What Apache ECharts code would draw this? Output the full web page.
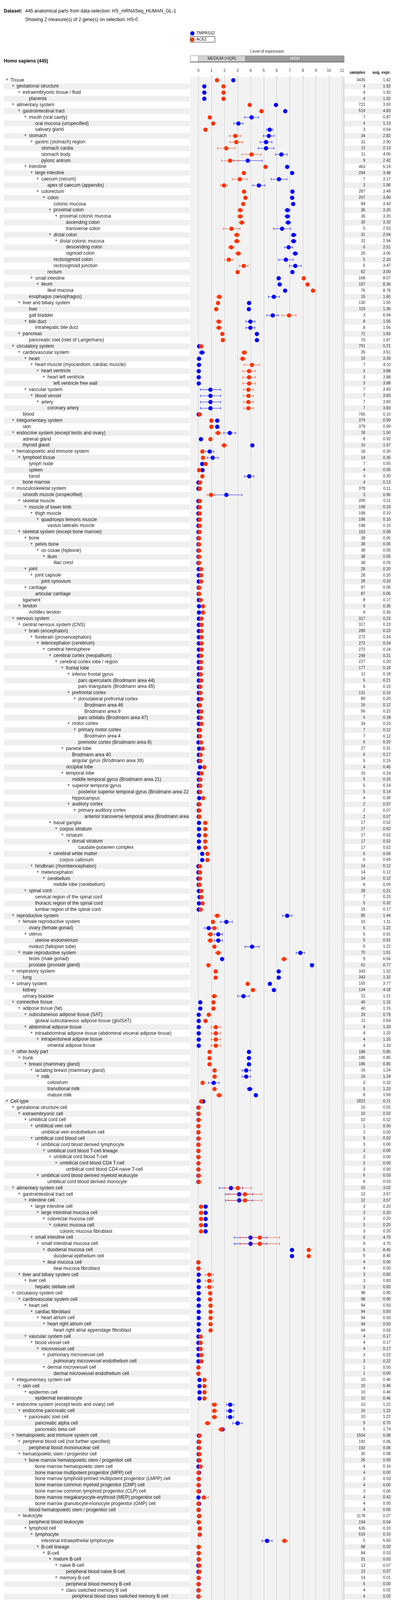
<!DOCTYPE html>
<html>
<head>
<meta charset="utf-8">
<script src="https://cdn.jsdelivr.net/npm/echarts@6/dist/echarts.min.js"></script>
<style>
html,body{margin:0;padding:0;background:#fff;}
#c{width:1020px;height:7290px;}
</style>
</head>
<body>
<div id="c"></div>
<script>
// ---------------- DATA ----------------
const labels = [
"Tissue","gestational structure","extraembryonic tissue / fluid","placenta","alimentary system","gastrointestinal tract","mouth (oral cavity)","oral mucosa (unspecified)","salivary gland","stomach",
"gastric (stomach) region","stomach cardia","stomach body","pyloric antrum","intestine","large intestine","caecum (cecum)","apex of caecum (appendix)","colorectum","colon",
"colonic mucosa","proximal colon","proximal colonic mucosa","ascending colon","transverse colon","distal colon","distal colonic mucosa","descending colon","sigmoid colon","rectosigmoid colon",
"rectosigmoid junction","rectum","small intestine","ileum","ileal mucosa","esophagus (oesophagus)","liver and biliary system","liver","gall bladder","bile duct",
"intrahepatic bile duct","pancreas","pancreatic islet (islet of Langerhans)","circulatory system","cardiovascular system","heart","heart muscle (myocardium, cardiac muscle)","heart ventricle","heart left ventricle","left ventricle free wall",
"vascular system","blood vessel","artery","coronary artery","blood","integumentary system","skin","endocrine system (except testis and ovary)","adrenal gland","thyroid gland",
"hematopoietic and immune system","lymphoid tissue","lymph node","spleen","tonsil","bone marrow","musculoskeletal system","smooth muscle (unspecified)","skeletal muscle","muscle of lower limb",
"thigh muscle","quadriceps femoris muscle","vastus lateralis muscle","skeletal system (except bone marrow)","bone","pelvis bone","os coxae (hipbone)","ilium","iliac crest","joint",
"joint capsule","joint synovium","cartilage","articular cartilage","ligament","tendon","Achilles tendon","nervous system","central nervous system (CNS)","brain (encephalon)",
"forebrain (prosencephalon)","telencephalon (cerebrum)","cerebral hemisphere","cerebral cortex (neopallium)","cerebral cortex lobe / region","frontal lobe","inferior frontal gyrus","pars opercularis (Brodmann area 44)","pars triangularis (Brodmann area 45)","prefrontal cortex",
"dorsolateral prefrontal cortex","Brodmann area 46","Brodmann area 9","pars orbitalis (Brodmann area 47)","motor cortex","primary motor cortex","Brodmann area 4","premotor cortex (Brodmann area 6)","parietal lobe","Brodmann area 40",
"angular gyrus (Brodmann area 39)","occipital lobe","temporal lobe","middle temporal gyrus (Brodmann area 21)","superior temporal gyrus","posterior superior temporal gyrus (Brodmann area 22)","hippocampus","auditory cortex","primary auditory cortex","anterior transverse temporal area (Brodmann area 41)",
"basal ganglia","corpus striatum","striatum","dorsal striatum","caudate-putamen complex","cerebral white matter","corpus callosum","hindbrain (rhombencephalon)","metencephalon","cerebellum",
"middle lobe (cerebellum)","spinal cord","cervical region of the spinal cord","thoracic region of the spinal cord","lumbar region of the spinal cord","reproductive system","female reproductive system","ovary (female gonad)","uterus","uterine endometrium",
"oviduct (fallopian tube)","male reproductive system","testis (male gonad)","prostate (prostate gland)","respiratory system","lung","urinary system","kidney","urinary bladder","connective tissue",
"adipose tissue (fat)","subcutaneous adipose tissue (SAT)","gluteal subcutaneous adipose tissue (glutSAT)","abdominal adipose tissue","intraabdominal adipose tissue (abdominal visceral adipose tissue)","intraperitoneal adipose tissue","omental adipose tissue","other body part","trunk","breast (mammary gland)",
"lactating breast (mammary gland)","milk","colostrum","transitional milk","mature milk","Cell type","gestational structure cell","extraembryonic cell","umbilical cord cell","umbilical vein cell",
"umbilical vein endothelium cell","umbilical cord blood cell","umbilical cord blood derived lymphocyte","umbilical cord blood T-cell lineage","umbilical cord blood T-cell","umbilical cord blood CD4 T-cell","umbilical cord blood CD4 naive T-cell","umbilical cord blood derived myeloid leukocyte","umbilical cord blood derived monocyte","alimentary system cell",
"gastrointestinal tract cell","intestine cell","large intestine cell","large intestinal mucosa cell","colorectal mucosa cell","colonic mucosa cell","colonic mucosa fibroblast","small intestine cell","small intestinal mucosa cell","duodenal mucosa cell",
"duodenal epithelium cell","ileal mucosa cell","ileal mucosa fibroblast","liver and biliary system cell","liver cell","hepatic stellate cell","circulatory system cell","cardiovascular system cell","heart cell","cardiac fibroblast",
"heart atrium cell","heart right atrium cell","heart right atrial appendage fibroblast","vascular system cell","blood vessel cell","microvessel cell","pulmonary microvessel cell","pulmonary microvessel endothelium cell","dermal microvessel cell","dermal microvessel endothelium cell",
"integumentary system cell","skin cell","epidermis cell","epidermal keratinocyte","endocrine system (except testis and ovary) cell","endocrine pancreatic cell","pancreatic islet cell","pancreatic alpha cell","pancreatic beta cell","hematopoietic and immune system cell",
"peripheral blood cell (not further specified)","peripheral blood mononuclear cell","hematopoietic stem / progenitor cell","bone marrow hematopoietic stem / progenitor cell","bone marrow hematopoietic stem cell","bone marrow multipotent progenitor (MPP) cell","bone marrow lymphoid-primed multipotent progenitor (LMPP) cell","bone marrow common myeloid progenitor (CMP) cell","bone marrow common lymphoid progenitor (CLP) cell","bone marrow megakaryocyte-erythroid (MEP) progenitor cell",
"bone marrow granulocyte-monocyte progenitor (GMP) cell","blood hematopoietic stem / progenitor cell","leukocyte","peripheral blood leukocyte","lymphoid cell","lymphocyte","intestinal intraepithelial lymphocyte","B-cell lineage","B-cell","mature B-cell",
"naive B-cell","peripheral blood naive B-cell","memory B-cell","peripheral blood memory B-cell","class switched memory B cell","peripheral blood class switched memory B cell","unswitched memory B-cell","peripheral blood unswitched memory B-cell","exhausted B-cell","peripheral blood exhausted B-cell",
"B-cell (unspecified)","peripheral blood B-cell (unspecified)","plasmablast","peripheral blood plasmablast","T-cell lineage","T-cell","CD4 T-cell","CD4 T-cell (unspecified)","peripheral blood CD4 T-cell (unspecified)","breast tissue CD4 T-cell (unspecified)",
"CD4 naive T-cell","peripheral blood CD4 naive T-cell","tonsillar CD4 naive T-cell","CD4 helper T-cell","CD4 helper T-cell (unspecified)","peripheral blood CD4 helper T-cell (unspecified)","tonsillar CD4 helper T-cell (unspecified)","skin CD4 helper T-cell (unspecified)","Th1 T-cell","peripheral blood Th1 T-cell",
"colonic Th1 T-cell","Th2 T-cell","peripheral blood Th2 T-cell","Th17 T-cell","peripheral blood Th17 T-cell","colonic Th17 T-cell","CD4 follicular helper T-cell","tonsillar CD4 follicular helper T-cell","peripheral blood CD4 follicular helper T-cell","CD4 memory T-cell",
"CD4 central memory T-cell","peripheral blood CD4 central memory T-cell","CD4 effector memory T-cell","peripheral blood CD4 effector memory T-cell","splenic CD4 effector memory T-cell","pulmonary CD4 effector memory T-cell","CD4 tissue-resident memory T-cell","splenic CD4 resident memory T-cell","CD4 memory Th1 precursor T-cell","CD4 memory Th2 precursor T-cell",
"CD4 memory Th17 precursor T-cell","CD4 regulatory T-cell","CD4 regulatory T-cell (unspecified)","peripheral blood CD4 regulatory T-cell (unspecified)","breast tissue CD4 regulatory T-cell (unspecified)","colonic CD4 regulatory T-cell (unspecified)","CD4 naive regulatory T-cell","peripheral blood CD4 naive regulatory T-cell","CD4 memory regulatory T-cell","peripheral blood CD4 memory regulatory T-cell",
"CD4 activated T-cell","peripheral blood CD4 activated T-cell","CD4 resting T-cell","peripheral blood CD4 resting T-cell","CD8 T-cell","CD8 T-cell (unspecified)","peripheral blood CD8 T-cell (unspecified)","pulmonary CD8 T-cell (unspecified)","skin CD8 T-cell (unspecified)","CD8 naive T-cell",
"peripheral blood CD8 naive T-cell","CD8 memory T-cell","CD8 memory T-cell (unspecified)","lymph node CD8 memory T-cell (unspecified)","bone marrow CD8 memory T-cell (unspecified)","CD8 central memory T-cell","peripheral blood CD8 central memory T-cell","CD8 effector memory T-cell","peripheral blood CD8 effector memory T-cell","splenic CD8 effector memory T-cell",
"pulmonary CD8 effector memory T-cell","CD8 effector memory RA T-cell","peripheral blood CD8 effector memory RA T-cell","tissue-resident CD8 memory T-cell","splenic CD8 resident memory T-cell","skin CD8 resident memory T-cell","CD8 activated T-cell","peripheral blood CD8 activated T-cell","NK T-cell","NK T-cell (unspecified)",
"peripheral blood NK T-cell (unspecified)","gamma-delta T-cell","gamma-delta T-cell (unspecified)","intestinal intraepithelial gd T-cell (unspecified)","peripheral blood gd T-cell (unspecified)","regulatory T-cell (unspecified)","peripheral blood regulatory T-cell (unspecified)","mucosal associated invariant T cell (MAIT)","peripheral blood mucosal associated invariant T cell","innate lymphoid cell",
"group 1 innate lymphoid cell","natural killer cell","peripheral blood natural killer cell","myeloid leukocyte","granulocyte (polymorphonuclear leukocyte)","basophil granulocyte","blood basophil granulocyte","blood low density basophil granulocyte","neutrophil granulocyte","blood neutrophil granulocyte",
"blood low density neutrophil granulocyte","monocyte","peripheral blood monocyte","peripheral blood classical monocyte","peripheral blood intermediate monocyte","peripheral blood non-classical monocyte","macrophage","monocyte derived macrophage","myeloid cell","erythroblast",
"platelet (thrombocyte)","dendritic cell","monocyte derived dendritic cell","conventional dendritic cell","peripheral blood conventional dendritic cell","plasmacytoid dendritic cell","peripheral blood plasmacytoid dendritic cell","musculoskeletal system cell","skeletal system cell","bone tissue cell",
"bone cell","osteoblast","nervous system cell","central nervous system cell","glia cell","astrocyte","astrocyte (unspecified)","brain astrocyte (unspecified)","forebrain astrocyte","telencephalon astocyte",
"cerebral cortex astrocyte","microglia cell","brain microglia cell","forebrain microglia cell","telencephalon microglia cell","cerebral cortex microglia cell","oligodendrocyte","myelinating oligodendrocyte","brain myelinating oligodendrocyte","forebrain myelinating oligodendrocyte",
"telencephalon myelinating oligodendrocyte","cerebral cortex myelinating oligodendrocyte","neuron","brain neuron","midbrain neuron","midbrain neuron (unspecified)","cerebral peduncle neuron","cerebral peduncle neuron (unspecified)","periaqueductal grey neuron","periaqueductal grey neuron (unspecified)",
"oculomotor nucleus motor neuron","spinal cord neuron","spinal cord motor neuron","peripheral nervous system cell","Schwann cell","reproductive system cell","female reproductive system cell","ovary (female gonad) cell","ovarian cortex cell","ovarian follicle cell",
"ovarian granulosa cell","cumulus granulosa cell","mural granulosa cell","cumulus cell","uterus cell","uterine endometrium cell","uterine endometrium stroma cell","male reproductive system cell","male germ cell","spermatozoon (gamete, sperm cell)",
"respiratory system cell","trachea cell","tracheal mucosa cell","tracheal epithelium cell","lung cell","bronchoalveolar system cell","large airway cell","large airway mucosa cell","large airway epithelium cell","bronchus (primary, main stem) cell",
"bronchial (primary, main stem) mucosa cell","bronchial (primary, main stem) epithelium cell","alveolar sac cell","alveolar cell","alveolar epithelium cell","pneumocyte","cuboidal alveolar type 2 cell (AT2)","urinary system cell","kidney cell","nephron cell",
"renal corpuscle cell","Bowman's capsule (glomerular capsule) cell","podocyte","Organotypic / 3D culture","primary colonic epithelium organoid"
];

// tree depth of each row
const levels = [
0,1,2,3,1,2,3,4,4,3,
4,5,5,5,3,4,5,6,5,6,
7,7,8,9,9,7,8,9,9,7,
7,6,4,5,6,3,2,3,3,3,
4,2,3,1,2,3,4,5,6,7,
3,4,5,6,2,1,2,1,2,2,
1,2,3,3,3,2,1,2,2,3,
4,5,6,2,3,4,5,6,7,3,
4,5,3,4,2,2,3,1,2,3,
4,5,6,7,8,9,10,11,11,10,
11,12,12,11,10,11,12,11,9,10,
10,9,9,10,10,11,10,10,11,12,
7,8,9,10,11,7,8,4,5,6,
7,3,4,4,4,1,2,3,3,4,
3,2,3,3,1,2,1,2,2,1,
2,3,4,3,4,5,6,1,2,3,
4,5,6,6,6,0,1,2,3,4,
5,4,5,6,7,8,9,5,6,1,
2,3,4,5,6,7,8,4,5,6,
7,6,7,2,3,4,1,2,3,4,
5,6,7,3,4,5,6,7,6,7,
1,2,3,4,1,2,3,4,4,1,
2,3,2,3,4,4,4,4,4,4,
4,3,2,3,3,4,5,5,6,7,
8,9,8,9,9,10,9,10,8,9,
7,7,6,7,5,6,7,8,9,9,
8,9,9,8,9,10,10,10,9,10,
10,9,10,9,10,10,9,10,10,8,
9,10,9,10,10,10,9,10,9,9,
9,8,9,10,10,10,9,10,9,10,
8,9,8,9,7,8,9,9,9,8,
9,8,9,10,10,9,10,9,10,10,
10,9,10,9,10,10,8,9,7,8,
9,7,8,9,9,7,8,7,8,4,
5,6,7,3,4,5,6,7,5,6,
7,4,5,6,6,6,4,5,2,3,
3,2,3,3,4,3,4,1,2,3,
4,5,1,2,3,4,5,6,7,8,
9,4,5,6,7,8,4,5,6,7,
8,9,3,4,5,6,7,8,9,10,
11,4,5,2,3,1,2,3,4,5,
6,7,7,6,3,4,5,2,3,4,
1,2,3,4,2,3,4,5,6,5,
6,7,4,5,6,7,8,1,2,3,
4,5,6,0,1
];

const samples = [
3435,4,4,4,721,519,7,4,3,34,
31,11,11,9,463,294,7,3,287,207,
84,35,35,30,5,31,31,6,25,5,
6,62,168,157,76,15,130,119,3,8,
8,72,70,791,26,19,7,3,3,3,
7,7,7,7,765,379,379,18,8,10,
18,14,7,4,3,4,378,3,205,198,
198,198,198,153,38,38,38,38,38,28,
28,28,87,87,8,9,9,317,317,289,
272,272,272,249,227,177,11,5,6,131,
80,16,56,5,24,7,7,6,27,6,
5,4,19,5,5,5,4,2,2,2,
17,17,17,17,17,6,6,14,14,14,
8,28,7,5,15,85,15,5,5,5,
5,70,9,61,343,343,155,134,21,40,
40,29,11,4,4,4,4,186,186,186,
16,16,3,5,8,1822,10,10,10,1,
1,9,3,3,3,3,3,6,6,15,
12,12,3,3,3,3,3,9,9,5,
5,4,4,3,3,3,98,98,94,94,
94,94,94,4,4,4,3,3,1,1,
10,10,10,10,10,10,10,5,5,1504,
192,192,30,26,4,4,3,4,3,4,
4,4,1178,194,635,615,5,88,84,31,
13,13,14,6,4,4,4,4,4,4,
4,48,4,4,522,522,297,56,46,6,
50,46,4,59,20,8,3,9,14,8,
6,4,4,10,4,6,11,3,8,85,
17,17,53,47,3,3,3,3,4,4,
4,29,25,7,6,7,2,2,2,2,
8,8,10,10,194,107,52,32,19,9,
9,72,12,6,6,7,7,32,26,3,
3,4,4,17,3,14,6,6,4,4,
4,19,19,8,11,4,4,4,4,20,
20,20,15,347,77,4,4,4,72,64,
4,253,227,4,4,8,17,17,60,3,
57,44,1,20,18,13,7,8,8,8,
8,8,50,47,37,10,10,10,10,10,
10,24,24,18,18,18,3,3,3,3,
3,3,10,7,7,7,7,7,7,7,
7,3,3,3,3,81,19,11,11,11,
6,3,3,5,8,8,8,62,62,62,
33,4,4,4,29,29,19,17,17,2,
2,2,3,3,3,3,3,3,3,3,
3,3,3,10,10
];

// ACE2 (red) level of expression = avg. expr. column
const ace2 = [
1.42,1.92,1.92,1.92,3.93,4.83,0.87,1.13,0.54,2.82,
2.90,2.13,4.06,2.42,5.14,3.48,3.17,1.96,3.49,3.60,
3.43,3.20,3.20,3.32,2.53,2.94,2.94,2.51,3.05,2.33,
3.47,3.00,8.07,8.36,8.78,1.60,1.50,1.36,6.94,1.56,
1.56,1.83,1.87,0.21,3.51,3.39,4.10,3.88,3.88,3.88,
3.83,3.83,3.83,3.83,0.10,0.99,0.99,1.50,0.92,1.97,
0.30,0.35,0.55,0.05,0.30,0.13,0.11,0.96,0.11,0.10,
0.10,0.10,0.10,0.08,0.05,0.05,0.05,0.05,0.05,0.20,
0.20,0.20,0.06,0.06,0.17,0.35,0.35,0.23,0.23,0.23,
0.24,0.24,0.24,0.21,0.20,0.18,0.18,0.21,0.15,0.16,
0.20,0.12,0.22,0.18,0.23,0.12,0.12,0.20,0.31,0.17,
0.15,0.45,0.24,0.15,0.14,0.14,0.36,0.07,0.07,0.07,
0.52,0.52,0.52,0.52,0.52,0.69,0.69,0.12,0.12,0.12,
0.09,0.21,0.23,0.32,0.17,1.44,1.11,1.22,0.91,0.91,
1.22,1.51,6.56,0.77,1.32,1.32,3.77,4.18,1.21,1.15,
1.15,0.79,0.54,1.33,1.33,1.33,1.33,0.85,0.85,0.85,
1.24,1.24,0.32,1.23,1.59,0.21,0.02,0.02,0.02,0.00,
0.00,0.02,0.00,0.00,0.00,0.00,0.00,0.03,0.03,3.02,
3.57,3.57,0.20,0.20,0.20,0.20,0.20,4.70,4.70,8.45,
8.45,0.00,0.00,0.83,0.83,0.83,0.90,0.90,0.93,0.93,
0.93,0.93,0.93,0.17,0.17,0.17,0.22,0.22,0.00,0.00,
0.46,0.46,0.46,0.46,1.22,1.22,1.22,0.70,1.74,0.08,
0.06,0.06,0.08,0.09,0.16,0.00,0.03,0.00,0.00,0.42,
0.00,0.00,0.07,0.04,0.10,0.10,6.60,0.03,0.03,0.03,
0.07,0.07,0.01,0.00,0.02,0.02,0.00,0.00,0.00,0.00,
0.13,0.02,0.00,0.00,0.05,0.05,0.05,0.03,0.02,0.07,
0.04,0.05,0.00,0.13,0.33,0.00,0.03,0.73,0.00,0.00,
0.00,0.00,0.00,0.10,0.25,0.00,0.00,0.00,0.00,0.01,
0.00,0.00,0.02,0.02,0.00,0.04,0.00,0.00,0.00,0.00,
0.00,0.07,0.08,0.13,0.11,0.04,0.00,0.00,0.00,0.00,
0.03,0.03,0.02,0.02,0.06,0.05,0.05,0.00,0.12,0.00,
0.00,0.09,0.27,0.41,0.14,0.00,0.00,0.06,0.05,0.01,
0.13,0.00,0.00,0.06,0.11,0.06,0.00,0.00,0.00,0.00,
0.00,0.00,0.00,0.00,0.00,0.00,0.00,0.27,0.27,0.00,
0.00,0.00,0.00,0.04,0.17,0.12,0.12,0.12,0.18,0.18,
0.21,0.01,0.00,0.00,0.00,0.02,0.00,0.00,0.33,0.17,
0.34,0.03,0.03,0.01,0.00,0.00,0.01,0.01,0.01,0.01,
0.01,0.01,0.21,0.21,0.19,0.49,0.49,0.49,0.49,0.49,
0.49,0.00,0.00,0.00,0.00,0.00,0.74,0.74,0.74,0.74,
0.74,0.74,0.30,0.00,0.00,0.00,0.00,0.00,0.00,0.00,
0.00,1.00,1.00,0.09,0.09,0.71,2.88,4.95,4.95,4.95,
4.62,6.48,2.76,5.35,0.04,0.04,0.04,0.04,0.04,0.04,
1.24,1.92,1.92,1.92,1.14,1.14,0.42,0.32,0.32,1.23,
1.23,1.23,1.65,1.65,1.65,1.65,1.65,0.00,0.00,0.00,
0.00,0.00,0.00,4.31,4.31
];

// TMPRSS2 (blue) level of expression
const tmprss2 = [
2.67,0.45,0.45,0.45,5.94,6.65,4.07,3.06,5.46,5.39,
5.18,5.18,6.35,3.78,6.80,7.18,6.17,4.63,7.20,7.18,
7.26,6.82,6.82,6.87,6.41,7.29,7.29,6.91,7.42,6.70,
7.42,7.20,6.15,6.23,6.64,5.78,3.88,3.86,5.69,3.98,
3.98,4.48,4.48,0.05,0.27,0.04,0.04,0.02,0.02,0.02,
0.92,0.92,0.92,0.92,0.02,1.44,1.44,2.40,0.19,4.13,
0.86,1.09,0.29,0.31,3.89,0.00,0.00,2.14,0.00,0.00,
0.00,0.00,0.00,0.00,0.00,0.00,0.00,0.00,0.00,0.02,
0.02,0.02,0.02,0.02,0.03,0.04,0.04,0.03,0.03,0.03,
0.03,0.03,0.03,0.03,0.03,0.03,0.03,0.03,0.03,0.03,
0.03,0.03,0.03,0.03,0.03,0.03,0.03,0.00,0.05,0.03,
0.03,0.12,0.03,0.03,0.03,0.03,0.06,0.02,0.02,0.02,
0.04,0.04,0.04,0.04,0.04,0.29,0.29,0.00,0.00,0.00,
0.02,0.03,0.08,0.04,0.02,6.80,2.14,0.78,1.52,1.52,
4.11,7.81,1.81,8.70,6.15,6.15,5.47,5.78,3.45,0.14,
0.14,0.02,0.02,0.02,0.02,0.02,0.02,3.87,3.87,3.87,
3.66,3.66,1.17,3.93,4.40,0.37,0.00,0.00,0.00,0.00,
0.00,0.00,0.00,0.00,0.00,0.00,0.00,0.00,0.00,2.49,
3.12,3.12,0.55,0.55,0.55,0.55,0.55,3.99,3.99,7.17,
7.17,0.00,0.00,0.02,0.02,0.02,0.02,0.02,0.02,0.02,
0.02,0.02,0.02,0.00,0.00,0.00,0.00,0.00,0.00,0.00,
0.08,0.08,0.08,0.08,2.43,2.43,2.43,3.00,1.83,0.03,
0.02,0.02,0.02,0.02,0.00,0.05,0.02,0.02,0.05,0.00,
0.05,0.02,0.05,0.02,0.10,0.10,5.26,0.02,0.02,0.02,
0.00,0.00,0.02,0.02,0.00,0.00,0.02,0.02,0.02,0.02,
0.00,0.02,0.02,0.02,0.10,0.10,0.10,0.12,0.02,1.17,
0.02,0.00,0.70,0.05,0.15,0.12,0.90,0.01,0.10,0.05,
0.25,0.00,0.00,0.05,0.02,0.25,0.25,0.84,0.00,0.05,
0.00,0.00,0.02,0.02,0.05,1.15,0.30,0.30,0.00,0.00,
0.49,0.37,0.43,0.00,1.46,0.25,0.00,0.00,0.00,0.00,
0.00,0.00,0.00,0.00,0.20,0.20,0.02,0.49,0.20,0.18,
0.18,0.05,0.10,0.15,0.03,0.00,0.00,0.10,0.02,0.00,
0.95,0.00,0.00,0.03,0.03,0.03,0.02,0.02,0.00,0.00,
0.00,0.00,0.00,0.00,0.00,0.00,0.00,0.02,0.02,0.00,
0.00,0.00,0.00,0.02,0.10,0.00,0.00,0.00,0.05,0.05,
0.05,0.02,0.03,0.00,0.00,0.00,0.05,0.05,0.76,0.00,
0.78,0.10,0.00,0.00,0.00,0.25,0.35,0.00,0.00,0.00,
0.00,0.00,0.03,0.03,0.02,0.10,0.10,0.10,0.10,0.10,
0.10,0.10,0.10,0.10,0.10,0.10,0.00,0.00,0.00,0.00,
0.00,0.00,0.00,0.00,0.00,0.00,0.00,0.00,0.00,0.00,
0.00,0.00,0.00,0.00,0.00,3.37,0.37,0.12,0.12,0.12,
0.18,0.23,0.08,0.06,0.74,0.74,0.74,4.26,4.26,4.26,
2.88,5.69,5.69,5.69,2.49,2.49,1.83,1.62,1.62,3.54,
3.54,3.54,5.08,5.08,5.08,5.08,5.08,0.21,0.21,0.21,
0.21,0.21,0.21,7.92,7.92
];

// half-length of the error bars (0 = no bar)
const ace2Err = [
0,0,0,0,0,0,0,0,0,0.45,
0.49,0.68,0.74,0.65,0,0,0.58,0.27,0,0,
0,0.19,0.19,0.19,0.65,0.19,0.19,0.21,0.2,0.32,
0.33,0,0,0,0,0.2,0,0,0.54,0.21,
0.21,0,0,0,0.19,0.2,0.6,0.48,0.48,0.48,
0.38,0.38,0.38,0.38,0,0,0,0.21,0,0.21,
0,0,0,0,0,0,0,0.31,0,0,
0,0,0,0,0,0,0,0,0,0,
0,0,0,0,0,0,0,0,0,0,
0,0,0,0,0,0,0,0,0,0,
0,0,0,0,0,0,0,0,0,0,
0,0,0,0,0,0,0,0,0,0,
0,0,0,0,0,0,0,0,0,0,
0,0,0,0,0,0.2,0,0.25,0.19,0.19,
0,0.21,0.2,0,0,0,0,0,0.2,0,
0,0,0,0.36,0.36,0.36,0.36,0,0,0,
0,0,0,0,0.2,0,0,0,0,0,
0,0,0,0,0,0,0,0,0,1.05,
1.28,1.28,0,0,0,0,0,1.51,1.51,0,
0,0,0,0.31,0.31,0.31,0,0,0,0,
0,0,0,0,0,0,0,0,0,0,
0,0,0,0,0.19,0.19,0.19,0.2,0.2,0,
0,0,0,0,0,0,0,0,0,0.33,
0,0,0,0,0,0,0.21,0,0,0,
0,0,0,0,0,0,0,0,0,0,
0,0,0,0,0,0,0,0,0,0,
0,0,0,0,0.2,0,0,0.45,0,0,
0,0,0,0,0.19,0,0,0,0,0,
0,0,0,0,0,0,0,0,0,0,
0,0,0,0,0,0,0,0,0,0,
0,0,0,0,0,0,0,0,0,0,
0,0,0,0.2,0,0,0,0,0,0,
0,0,0,0,0,0,0,0,0,0,
0,0,0,0,0,0,0,0.19,0.19,0,
0,0,0,0,0,0,0,0,0,0,
0,0,0,0,0,0,0,0,0,0,
0,0,0,0,0,0,0,0,0,0,
0,0,0,0,0,0.19,0.19,0.19,0.19,0.19,
0.19,0,0,0,0,0,0.33,0.33,0.33,0.33,
0.33,0.33,0.21,0,0,0,0,0,0,0,
0,0.76,0.76,0,0,0.2,0.66,0.54,0.54,0.54,
0.85,0.42,0.45,0.54,0,0,0,0,0,0,
0.2,0,0,0,0.2,0.2,0,0,0,0.26,
0.26,0.26,0.32,0.32,0.32,0.32,0.32,0,0,0,
0,0,0,0.31,0.31
];

const tmprss2Err = [
0,0,0,0,0,0,0.53,0.36,0.24,0.42,
0.46,0.6,0.45,1.1,0,0,0.6,0.47,0,0,
0,0.19,0.19,0.19,0.66,0.18,0.18,0.3,0.18,0.56,
0.45,0,0,0,0,0.43,0,0,0.44,0.35,
0.35,0,0,0,0.2,0,0,0,0,0,
0.77,0.77,0.77,0.77,0,0,0,0.47,0,0,
0.32,0.42,0,0,0.36,0,0,1.19,0,0,
0,0,0,0,0,0,0,0,0,0,
0,0,0,0,0,0,0,0,0,0,
0,0,0,0,0,0,0,0,0,0,
0,0,0,0,0,0,0,0,0,0,
0,0,0,0,0,0,0,0,0,0,
0,0,0,0,0,0,0,0,0,0,
0,0,0,0,0,0.37,0.46,0.32,0.31,0.31,
0.55,0.32,0,0,0,0,0,0,0.44,0,
0,0,0,0,0,0,0,0,0,0,
0.32,0.32,0.41,0.19,0,0,0,0,0,0,
0,0,0,0,0,0,0,0,0,0.9,
1.05,1.05,0,0,0,0,0,1.25,1.25,0,
0,0,0,0,0,0,0,0,0,0,
0,0,0,0,0,0,0,0,0,0,
0,0,0,0,0.28,0.28,0.28,0.37,0.19,0,
0,0,0,0,0,0,0,0,0,0,
0,0,0,0,0,0,0.39,0,0,0,
0,0,0,0,0,0,0,0,0,0,
0,0,0,0,0,0,0,0,0,0.48,
0,0,0,0,0,0,0,0,0,0,
0,0,0,0,0,0,0,0.42,0,0,
0,0,0,0,0,0,0.19,0.19,0,0,
0.4,0.18,0.18,0,0.66,0,0,0,0,0,
0,0,0,0,0,0,0,0,0,0,
0,0,0,0,0,0,0,0,0,0,
0,0,0,0,0,0,0,0,0,0,
0,0,0,0,0,0,0,0,0,0,
0,0,0,0,0,0,0,0,0,0,
0,0,0,0,0,0,0,0,0,0,
0,0,0,0,0,0,0,0,0,0,
0,0,0,0,0,0,0,0,0,0,
0,0,0,0,0,0,0,0,0,0,
0,0,0,0,0,0,0,0,0,0,
0,0,0,0,0,0.24,0,0,0,0,
0,0,0,0,0.3,0.3,0.3,0.26,0.26,0.26,
0.29,0.43,0.43,0.43,0.25,0.25,0.22,0,0,0.33,
0.33,0.33,0.21,0.21,0.21,0.21,0.21,0,0,0,
0,0,0,0,0
];

const xTickLabels = ['0','1','2','3','4','5','6','7','8','9','10','11'];
const geneNames = ['TMPRSS2', 'ACE2'];

// ---------------- LAYOUT ----------------
const N = labels.length;
const FONT = '"Liberation Sans", Arial, Helvetica, sans-serif';
const ROW_H = 15.844;
const GRID_TOP = 197.4;
const GRID_LEFT = 508.6;
const GRID_RIGHT_X = 876.5;
const PLOT_LEFT = 487;
const PLOT_RIGHT = 882.4;
const GRID_H = N * ROW_H;
const GRID_BOTTOM = GRID_TOP + GRID_H;
const hasChildren = levels.map((l, i) => i + 1 < N && levels[i + 1] > l);

const BLUE = '#0000ff';
const RED = '#ff3300';

function renderRow(params, api) {
  const i = api.value(1);
  const y = api.coord([0, i])[1];
  const h = api.size([0, 1])[1];
  const ch = [];
  if (i % 2 === 1) {
    ch.push({type: 'rect', shape: {x: 10, y: y - h / 2 + 0.5, width: 476, height: h - 1}, style: {fill: '#efefef'}});
    ch.push({type: 'rect', shape: {x: 882.5, y: y - h / 2 + 0.5, width: 55, height: h - 1}, style: {fill: '#efefef'}});
    ch.push({type: 'rect', shape: {x: 938.5, y: y - h / 2 + 0.5, width: 63.5, height: h - 1}, style: {fill: '#efefef'}});
  }
  const tx = 26.7 + 15.8 * levels[i];
  if (hasChildren[i]) {
    const cx = tx - 9;
    ch.push({type: 'polygon', shape: {points: [[cx - 2.6, y - 3.6], [cx + 2.6, y - 3.6], [cx, y + 1.6]]}, style: {fill: '#666'}});
  }
  ch.push({type: 'text', x: tx, y: y, style: {
    text: labels[i], font: '12px ' + FONT, fill: '#111',
    align: 'left', verticalAlign: 'middle', textAlign: 'left', textVerticalAlign: 'middle',
    width: PLOT_LEFT - tx - 1, overflow: 'truncate', ellipsis: ''
  }});
  ch.push({type: 'text', x: 936, y: y, style: {
    text: String(samples[i]), font: '10px ' + FONT, fill: '#222',
    align: 'right', verticalAlign: 'middle', textAlign: 'right', textVerticalAlign: 'middle'
  }});
  ch.push({type: 'text', x: 1001, y: y, style: {
    text: ace2[i].toFixed(2), font: '10px ' + FONT, fill: '#222',
    align: 'right', verticalAlign: 'middle', textAlign: 'right', textVerticalAlign: 'middle'
  }});
  return {type: 'group', children: ch};
}

function errRenderer(color) {
  return function (params, api) {
    const v = api.value(0), i = api.value(1), e = api.value(2);
    const a = api.coord([v - e, i]);
    const b = api.coord([v + e, i]);
    const y = a[1];
    const st = {stroke: color, lineWidth: 1.3};
    return {type: 'group', children: [
      {type: 'line', shape: {x1: a[0], y1: y, x2: b[0], y2: y}, style: st},
      {type: 'line', shape: {x1: a[0], y1: y - 3.4, x2: a[0], y2: y + 3.4}, style: st},
      {type: 'line', shape: {x1: b[0], y1: y - 3.4, x2: b[0], y2: y + 3.4}, style: st}
    ]};
  };
}

function errData(vals, errs) {
  const out = [];
  for (let i = 0; i < vals.length; i++) if (errs[i] > 0) out.push([vals[i], i, errs[i]]);
  return out;
}

function txt(x, y, text, font, fill, align) {
  return {type: 'text', x: x, y: y, z: 10, style: {
    text: text, font: font, fill: fill || '#000',
    align: align || 'left', verticalAlign: 'middle',
    textAlign: align || 'left', textVerticalAlign: 'middle'
  }};
}

const graphics = [
  // plot background
  {type: 'rect', z: -10, silent: true, shape: {x: PLOT_LEFT, y: GRID_TOP, width: PLOT_RIGHT - PLOT_LEFT, height: GRID_H + 1}, style: {fill: '#f2f2f2'}},
  // right & bottom borders of the plot
  {type: 'line', z: 1, silent: true, shape: {x1: 881.3, y1: GRID_TOP, x2: 881.3, y2: GRID_BOTTOM + 1}, style: {stroke: '#c6c6c6', lineWidth: 2}},
  {type: 'line', z: 1, silent: true, shape: {x1: PLOT_LEFT, y1: GRID_BOTTOM + 0.5, x2: PLOT_RIGHT, y2: GRID_BOTTOM + 0.5}, style: {stroke: '#c6c6c6', lineWidth: 2.5}},
  // header text
  txt(10, 29, 'Dataset:', 'bold 12px ' + FONT),
  txt(64.5, 29, '445 anatomical parts from data selection: HS_mRNASeq_HUMAN_GL-1', '12px ' + FONT),
  txt(64.5, 51, 'Showing 2 measure(s) of 2 gene(s) on selection: HS-0', '12px ' + FONT),
  txt(10, 157, 'Homo sapiens (445)', 'bold 12px ' + FONT),
  // legend selection box around ACE2
  {type: 'rect', z: 10, silent: true, shape: {x: 487.5, y: 93.5, width: 63.5, height: 14.5}, style: {fill: 'none', stroke: '#222', lineWidth: 1}},
  // level of expression bar
  txt(684.7, 132, 'Level of expression', '10px ' + FONT, '#222', 'center'),
  {type: 'rect', z: 5, silent: true, shape: {x: 487.5, y: 142.7, width: 21.1, height: 16.4}, style: {fill: '#ffffff', stroke: '#8a8a8a', lineWidth: 1}},
  {type: 'rect', z: 5, silent: true, shape: {x: 508.6, y: 142.7, width: 120.4, height: 16.4}, style: {fill: '#d2d2d2', stroke: '#8a8a8a', lineWidth: 1}},
  {type: 'rect', z: 5, silent: true, shape: {x: 629, y: 142.7, width: 253, height: 16.4}, style: {fill: '#9c9c9c', stroke: '#8a8a8a', lineWidth: 1}},
  {type: 'line', z: 6, silent: true, shape: {x1: 487, y1: 158.6, x2: 882.4, y2: 158.6}, style: {stroke: '#6e6e6e', lineWidth: 2}},
  txt(568.8, 150.5, 'MEDIUM (=IQR)', '10px ' + FONT, '#222', 'center'),
  txt(755.5, 150.5, 'HIGH', '10px ' + FONT, '#ffffff', 'center'),
  // column headers
  txt(936, 186, 'samples', 'bold 10px ' + FONT, '#111', 'right'),
  txt(1001, 186, 'avg. expr.', 'bold 10px ' + FONT, '#111', 'right'),
  // footer
  txt(1001, 7285, 'created with GENEVESTIGATOR', '12px ' + FONT, '#111', 'right')
];

const chart = echarts.init(document.getElementById('c'), null, {renderer: 'canvas'});

const axisCommon = {
  type: 'value', min: 0, max: 11, interval: 1,
  axisLine: {show: false},
  axisTick: {show: true, length: 3, lineStyle: {color: '#777', width: 1}},
  axisLabel: {fontSize: 10, color: '#333', fontFamily: FONT, formatter: v => xTickLabels[v]}
};

chart.setOption({
  animation: false,
  textStyle: {fontFamily: FONT},
  grid: {left: GRID_LEFT, top: GRID_TOP, width: GRID_RIGHT_X - GRID_LEFT, height: GRID_H, containLabel: false},
  legend: {
    data: geneNames.map(n => ({name: n, icon: 'circle'})),
    orient: 'vertical', left: 487.5, top: 79.8, padding: 0,
    itemWidth: 11, itemHeight: 11, itemGap: 5,
    selectedMode: false,
    textStyle: {fontSize: 10, color: '#000', fontFamily: FONT}
  },
  xAxis: [
    Object.assign({}, axisCommon, {position: 'top', axisLabel: Object.assign({}, axisCommon.axisLabel, {margin: 11}),
      splitLine: {show: true, lineStyle: {color: '#c8c8c8', width: 1}}}),
    Object.assign({}, axisCommon, {position: 'bottom', axisLabel: Object.assign({}, axisCommon.axisLabel, {margin: 13}),
      splitLine: {show: false}})
  ],
  yAxis: {type: 'category', data: labels, inverse: true, show: false},
  graphic: {elements: graphics},
  series: [
    {type: 'custom', name: 'rows', renderItem: renderRow, silent: true, z: 1, clip: false,
     data: labels.map((_, i) => [0, i]), encode: {x: 0, y: 1}},
    {type: 'custom', name: 'TMPRSS2 range', renderItem: errRenderer('rgba(0,0,255,0.72)'), silent: true, z: 3, clip: false,
     data: errData(tmprss2, tmprss2Err), encode: {x: 0, y: 1}},
    {type: 'scatter', name: 'TMPRSS2', symbol: 'circle', symbolSize: 11, z: 4, clip: false, silent: true,
     itemStyle: {color: BLUE, opacity: 1}, data: tmprss2.map((v, i) => [v, i])},
    {type: 'custom', name: 'ACE2 range', renderItem: errRenderer('rgba(255,51,0,0.72)'), silent: true, z: 5, clip: false,
     data: errData(ace2, ace2Err), encode: {x: 0, y: 1}},
    {type: 'scatter', name: 'ACE2', symbol: 'circle', symbolSize: 11, z: 6, clip: false, silent: true,
     itemStyle: {color: RED, opacity: 1}, data: ace2.map((v, i) => [v, i])}
  ]
});
</script>
</body>
</html>
